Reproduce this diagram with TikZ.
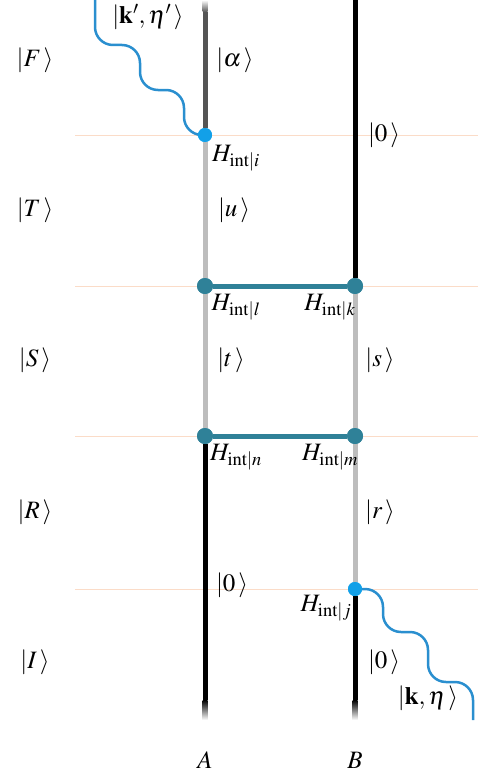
\documentclass[tikz,border=0pt]{standalone}
\usepackage{mathptmx}
\usepackage{fontspec}
\setmainfont{Liberation Serif}
\usetikzlibrary{positioning}
\definecolor{photonblue}{HTML}{2A8FCF}
\definecolor{vertexblue}{HTML}{12A0E8}
\definecolor{rungteal}{HTML}{2F8198}
\definecolor{lightworld}{HTML}{BDBDBD}
\definecolor{darkworld}{HTML}{555555}
\definecolor{slicecol}{HTML}{FBDCC8}
\tikzset{
  world/.style={line width=5pt},
  photon/.style={photonblue, line width=2.5pt, rounded corners=18pt},
  pvertex/.style={circle, fill=vertexblue, inner sep=0pt, minimum size=14pt},
  tvertex/.style={circle, fill=rungteal, inner sep=0pt, minimum size=16pt},
  rung/.style={rungteal, line width=5pt},
  slice/.style={slicecol, line width=1pt},
  ket/.style={font=\fontsize{25}{30}\selectfont, inner sep=0pt},
  hint/.style={font=\fontsize{25}{30}\selectfont, inner sep=0pt}
}

\begin{document}
\begin{tikzpicture}[x=1pt, y=-1pt]
  \useasboundingbox (0,0) rectangle (478,776);

  % time slices
  \foreach \t in {135,286,436,589}
    \draw[slice] (75,\t) -- (478,\t);

  % vertices
  \node[pvertex] (Vi) at (205,135) {};
  \node[tvertex] (Vl) at (205,286) {};
  \node[tvertex] (Vk) at (355,286) {};
  \node[tvertex] (Vn) at (205,436) {};
  \node[tvertex] (Vm) at (355,436) {};
  \node[pvertex] (Vj) at (355,589) {};
  \coordinate (Atop) at (205,12);
  \coordinate (Abot) at (205,700);
  \coordinate (Btop) at (355,0);
  \coordinate (Bbot) at (355,700);
  \coordinate (Kout) at (95,0);
  \coordinate (Kin) at (473,720);

  % world lines of A and B
  \draw[world, darkworld] (Atop) -- (Vi);
  \draw[world, lightworld] (Vi) -- (Vl);
  \draw[world, lightworld] (Vl) -- (Vn);
  \draw[world, black] (Vn) -- (Abot);
  \draw[world, black] (Btop) -- (Vk);
  \draw[world, lightworld] (Vk) -- (Vm);
  \draw[world, lightworld] (Vm) -- (Vj);
  \draw[world, black] (Vj) -- (Bbot);
  \shade[top color=white, bottom color=darkworld] (202.5,0) rectangle (207.5,12);
  \shade[top color=black, bottom color=white] (202.5,700) rectangle (207.5,720);
  \shade[top color=black, bottom color=white] (352.5,700) rectangle (357.5,720);

  % photons
  \draw[photon] (Kout) -- (95,45) -- (140,45) -- (140,90) -- (184,90) -- (184,135) -- (Vi);
  \draw[photon] (Vj) -- (383,589) -- (383,632) -- (428,632) -- (428,682) -- (473,682) -- (Kin);

  % interactions
  \draw[rung] (Vl) -- (Vk);
  \draw[rung] (Vn) -- (Vm);
  \node[tvertex] at (Vl) {};
  \node[tvertex] at (Vk) {};
  \node[tvertex] at (Vn) {};
  \node[tvertex] at (Vm) {};
  \node[pvertex] at (Vi) {};
  \node[pvertex] at (Vj) {};

  % total states
  \node[ket] (F) at (35,60) {$|F\,\rangle$};
  \node[ket] (T) at (35,210) {$|T\,\rangle$};
  \node[ket] (S) at (35,360) {$|S\,\rangle$};
  \node[ket] (R) at (35,512) {$|R\,\rangle$};
  \node[ket] (I) at (35,662) {$|I\,\rangle$};

  % states of A
  \node[ket] (alpha) at (235,60) {$|\alpha\,\rangle$};
  \node[ket] (u) at (234,210) {$|u\,\rangle$};
  \node[ket] (tA) at (231,360) {$|t\,\rangle$};
  \node[ket] (zA) at (232,585) {$|0\,\rangle$};

  % states of B
  \node[ket] (zB1) at (384,135) {$|0\,\rangle$};
  \node[ket] (sB) at (380,360) {$|s\,\rangle$};
  \node[ket] (rB) at (380,512) {$|r\,\rangle$};
  \node[ket] (zB2) at (384,662) {$|0\,\rangle$};

  % photon states
  \node[ket] (kout) at (148,17) {$|\mathbf{k}',\eta'\,\rangle$};
  \node[ket] (kin) at (428,698) {$|\mathbf{k},\eta\,\rangle$};

  % interaction labels
  \node[hint] (Hi) at (236,158) {$H_{\mathrm{int}|i}$};
  \node[hint] (Hl) at (236,307) {$H_{\mathrm{int}|l}$};
  \node[hint] (Hk) at (330,307) {$H_{\mathrm{int}|k}$};
  \node[hint] (Hn) at (236,457) {$H_{\mathrm{int}|n}$};
  \node[hint] (Hm) at (330,457) {$H_{\mathrm{int}|m}$};
  \node[hint] (Hj) at (326,608) {$H_{\mathrm{int}|j}$};

  % particles
  \node[ket] (A) at (205,760) {$A$};
  \node[ket] (B) at (355,760) {$B$};
\end{tikzpicture}
\end{document}
